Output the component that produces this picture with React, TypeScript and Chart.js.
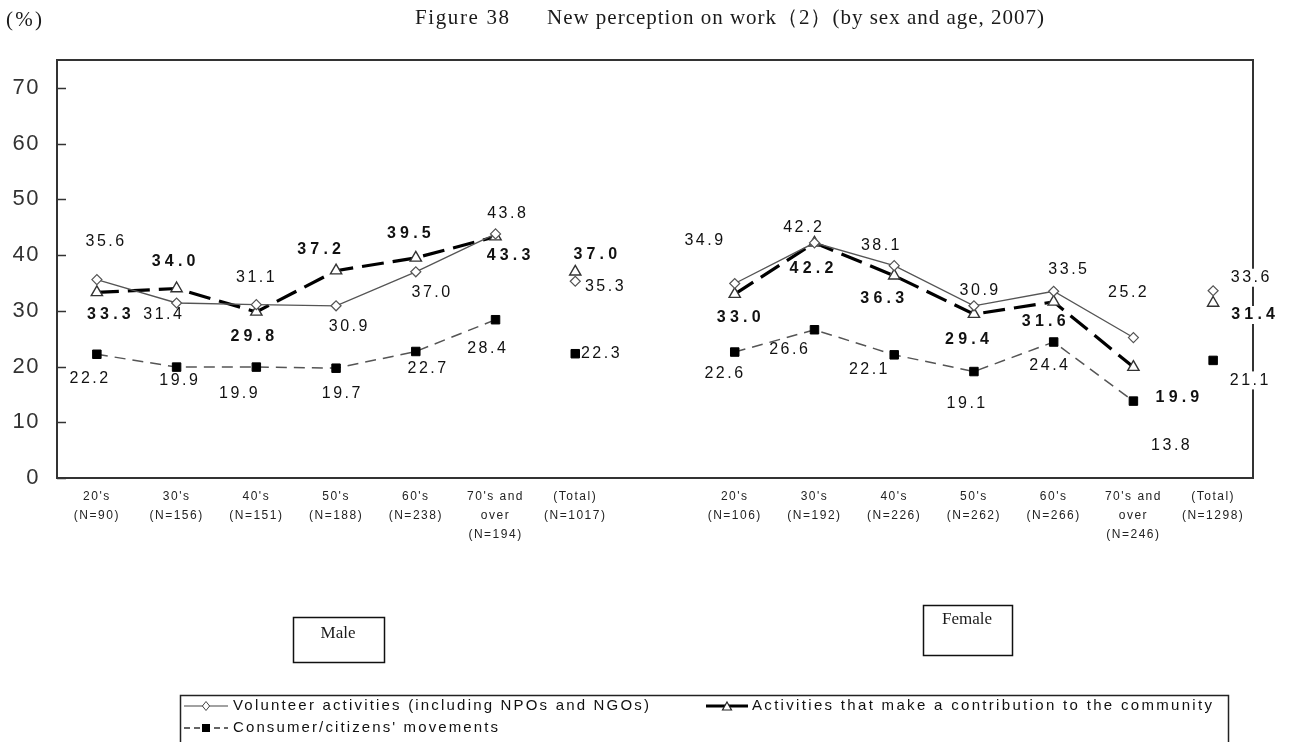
import React, { useEffect, useRef } from 'react';
import { Chart, registerables } from 'chart.js';

Chart.register(...registerables);

// ---------- categories / tick labels ----------
const maleCategories: string[][] = [
  ["20's", '(N=90)'],
  ["30's", '(N=156)'],
  ["40's", '(N=151)'],
  ["50's", '(N=188)'],
  ["60's", '(N=238)'],
  ["70's and", 'over', '(N=194)'],
  ['(Total)', '(N=1017)'],
];
const femaleCategories: string[][] = [
  ["20's", '(N=106)'],
  ["30's", '(N=192)'],
  ["40's", '(N=226)'],
  ["50's", '(N=262)'],
  ["60's", '(N=266)'],
  ["70's and", 'over', '(N=246)'],
  ['(Total)', '(N=1298)'],
];
const yTicks = [0, 10, 20, 30, 40, 50, 60, 70];

// ---------- series values ----------
const maleVolunteer = [35.6, 31.4, 31.1, 30.9, 37.0, 43.8];
const maleVolunteerTotal = 35.3;
const femaleVolunteer = [34.9, 42.2, 38.1, 30.9, 33.5, 25.2];
const femaleVolunteerTotal = 33.6;

const maleCommunity = [33.3, 34.0, 29.8, 37.2, 39.5, 43.3];
const maleCommunityTotal = 37.0;
const femaleCommunity = [33.0, 42.2, 36.3, 29.4, 31.6, 19.9];
const femaleCommunityTotal = 31.4;

const maleConsumer = [22.2, 19.9, 19.9, 19.7, 22.7, 28.4];
const maleConsumerTotal = 22.3;
const femaleConsumer = [22.6, 26.6, 22.1, 19.1, 24.4, 13.8];
const femaleConsumerTotal = 21.1;

const seriesNames = [
  'Volunteer activities (including NPOs and NGOs)',
  'Activities that make a contribution to the community',
  "Consumer/citizens' movements",
];

// ---------- label placement (style, offsets from each point in px) ----------
type Off = [number, number] | null;
const volunteerLabelOffsets: Off[] = [
  [8, -38], [-14, 12], [-1, -27], [12, 21], [15, 21], [11, -20], [29, 5], null,
  [-31, -43], [-12, -15], [-14, -20], [5, -15], [14, -22], [-6, -45], [37, -13],
];
const communityLabelOffsets: Off[] = [
  [12, 22], [-3, -27], [-4, 25], [-17, -21], [-7, -24], [13, 19], [20, -17], null,
  [4, 24], [-3, 26], [-12, 23], [-7, 25], [-10, 20], [44, 31], [40, 12],
];
const consumerLabelOffsets: Off[] = [
  [-8, 24], [2, 14], [-18, 27], [5, 25], [11, 17], [-9, 29], [25, 0], null,
  [-11, 22], [-26, 20], [-26, 15], [-8, 32], [-5, 24], [37, 45], [36, 20],
];

const SANS = '"Liberation Sans", Arial, sans-serif';
const SERIF = '"Liberation Serif", "Times New Roman", serif';

const labels = [...maleCategories, '', ...femaleCategories];

function lineData(m: number[], f: number[]) {
  return [...m, null, null, ...f, null];
}
function totalData(mt: number, ft: number) {
  const arr: (number | null)[] = new Array(15).fill(null);
  arr[6] = mt;
  arr[14] = ft;
  return arr;
}

function spaced(ctx: any, text: string, x: number, y: number, spacing: number, align: 'left' | 'center') {
  ctx.letterSpacing = '0px';
  const w0 = ctx.measureText(text).width;
  const n = [...text].length;
  const w = w0 + spacing * (n - 1);
  const sx = align === 'center' ? x - w / 2 : x;
  ctx.letterSpacing = spacing + 'px';
  ctx.textAlign = 'left';
  ctx.fillText(text, sx, y);
  ctx.letterSpacing = '0px';
  return { x: sx, w };
}
function fitText(ctx: any, text: string, x: number, y: number, target: number) {
  ctx.letterSpacing = '0px';
  const w0 = ctx.measureText(text).width;
  const n = [...text].length;
  const sp = Math.max(-1, Math.min(6, (target - w0) / (n - 1)));
  spaced(ctx, text, x, y, sp, 'left');
}

function diamond(ctx: any, x: number, y: number, r: number) {
  ctx.beginPath();
  ctx.moveTo(x, y - r);
  ctx.lineTo(x + r * 0.8, y);
  ctx.lineTo(x, y + r);
  ctx.lineTo(x - r * 0.8, y);
  ctx.closePath();
  ctx.fillStyle = '#fff';
  ctx.fill();
  ctx.stroke();
}
function triangle(ctx: any, x: number, y: number, r: number) {
  ctx.beginPath();
  ctx.moveTo(x, y - r);
  ctx.lineTo(x + r * 0.9, y + r * 0.6);
  ctx.lineTo(x - r * 0.9, y + r * 0.6);
  ctx.closePath();
  ctx.fillStyle = '#fff';
  ctx.fill();
  ctx.stroke();
}

const decorPlugin = {
  id: 'decor',
  beforeDraw(chart: any) {
    const ctx = chart.ctx;
    ctx.save();
    ctx.fillStyle = '#fff';
    ctx.fillRect(0, 0, chart.width, chart.height);
    ctx.restore();
    ctx.letterSpacing = '1.5px';
  },
  beforeDatasetsDraw(chart: any) {
    const ctx = chart.ctx;
    ctx.letterSpacing = '0px';
    const { left, right, top, bottom } = chart.chartArea;
    ctx.save();
    ctx.strokeStyle = '#333';
    ctx.lineWidth = 2;
    ctx.strokeRect(left, top, right - left, bottom - top);
    const ys = chart.scales.y;
    ctx.lineWidth = 1.5;
    yTicks.forEach((v) => {
      const py = Math.round(ys.getPixelForValue(v)) + 0.5;
      ctx.beginPath();
      ctx.moveTo(left, py);
      ctx.lineTo(left + 9, py);
      ctx.stroke();
    });
    ctx.restore();
  },
  afterDatasetsDraw(chart: any) {
    const ctx = chart.ctx;
    const right = chart.chartArea.right;
    const groups = [
      { line: 0, tot: 1, offs: volunteerLabelOffsets, bold: false },
      { line: 2, tot: 3, offs: communityLabelOffsets, bold: true },
      { line: 4, tot: 5, offs: consumerLabelOffsets, bold: false },
    ];
    ctx.save();
    ctx.textBaseline = 'middle';
    groups.forEach((g) => {
      for (let i = 0; i < 15; i++) {
        let di = g.line;
        let v = chart.data.datasets[di].data[i];
        if (v == null) {
          di = g.tot;
          v = chart.data.datasets[di].data[i];
        }
        if (v == null) continue;
        const off = g.offs[i];
        if (!off) continue;
        const pt = chart.getDatasetMeta(di).data[i];
        const cx = pt.x + off[0];
        const cy = pt.y + off[1];
        const text = Number(v).toFixed(1);
        ctx.font = g.bold ? `bold 16px ${SANS}` : `16px ${SANS}`;
        const sp = g.bold ? 4.2 : 2.5;
        ctx.letterSpacing = '0px';
        const w = ctx.measureText(text).width + sp * (text.length - 1);
        if (cx + w / 2 > right - 3) {
          ctx.fillStyle = '#fff';
          ctx.fillRect(cx - w / 2 - 2, cy - 9, w + 4, 18);
        }
        ctx.fillStyle = '#111';
        spaced(ctx, text, cx, cy, sp, 'center');
      }
    });
    ctx.restore();
  },
  afterDraw(chart: any) {
    const ctx = chart.ctx;
    ctx.save();
    ctx.letterSpacing = '0px';
    ctx.fillStyle = '#1a1a1a';
    ctx.textBaseline = 'middle';
    // title
    ctx.font = `21px ${SERIF}`;
    fitText(ctx, 'Figure 38', 415, 18, 94);
    fitText(ctx, 'New perception on work（2）(by sex and age, 2007)', 547, 18, 497);
    // unit
    ctx.font = `21px ${SERIF}`;
    fitText(ctx, '(%)', 6, 20, 36);

    // Male / Female boxes
    ctx.strokeStyle = '#111';
    ctx.lineWidth = 1.5;
    ctx.strokeRect(293.5, 617.5, 91, 45);
    ctx.strokeRect(923.5, 605.5, 89, 50);
    ctx.font = `17px ${SERIF}`;
    ctx.fillStyle = '#1a1a1a';
    spaced(ctx, 'Male', 338, 634, 0, 'center');
    spaced(ctx, 'Female', 967, 620, 0, 'center');

    // legend
    ctx.strokeStyle = '#222';
    ctx.lineWidth = 1.5;
    ctx.strokeRect(180.5, 695.5, 1048, 70);
    const r1 = 706;
    const r2 = 728;
    // volunteer
    ctx.strokeStyle = '#444';
    ctx.lineWidth = 1.2;
    ctx.beginPath();
    ctx.moveTo(184, r1);
    ctx.lineTo(228, r1);
    ctx.stroke();
    ctx.lineWidth = 1;
    diamond(ctx, 206, r1, 4.5);
    // community
    ctx.strokeStyle = '#000';
    ctx.lineWidth = 3;
    ctx.beginPath();
    ctx.moveTo(706, r1);
    ctx.lineTo(748, r1);
    ctx.stroke();
    ctx.lineWidth = 1.2;
    ctx.strokeStyle = '#222';
    triangle(ctx, 727, r1 + 1, 5);
    // consumer
    ctx.strokeStyle = '#333';
    ctx.lineWidth = 1.3;
    ctx.setLineDash([6, 4]);
    ctx.beginPath();
    ctx.moveTo(184, r2);
    ctx.lineTo(228, r2);
    ctx.stroke();
    ctx.setLineDash([]);
    ctx.fillStyle = '#000';
    ctx.fillRect(202, r2 - 4, 8, 8);

    ctx.fillStyle = '#111';
    ctx.font = `15px ${SANS}`;
    fitText(ctx, seriesNames[0], 233, r1, 416);
    fitText(ctx, seriesNames[1], 752, r1, 460);
    fitText(ctx, seriesNames[2], 233, r2, 265);
    ctx.restore();
  },
};

export default function App() {
  const ref = useRef<HTMLCanvasElement | null>(null);
  useEffect(() => {
    if (!ref.current) return;
    const volStyle = {
      borderColor: '#555',
      borderWidth: 1.3,
      pointStyle: 'rectRot',
      pointRadius: 5,
      pointBackgroundColor: '#fff',
      pointBorderColor: '#555',
      pointBorderWidth: 1.2,
    };
    const comStyle = {
      borderColor: '#000',
      borderWidth: 3.2,
      borderDash: [22, 9],
      pointStyle: 'triangle',
      pointRadius: 6.5,
      pointBackgroundColor: '#fff',
      pointBorderColor: '#333',
      pointBorderWidth: 1.4,
    };
    const conStyle = {
      borderColor: '#555',
      borderWidth: 1.5,
      borderDash: [11, 7],
      pointStyle: 'rect',
      pointRadius: 6,
      pointBackgroundColor: '#000',
      pointBorderColor: '#000',
      pointBorderWidth: 1,
    };
    const chart = new Chart(ref.current, {
      type: 'line',
      data: {
        labels,
        datasets: [
          { label: seriesNames[0], data: lineData(maleVolunteer, femaleVolunteer), ...volStyle },
          { label: seriesNames[0] + ' total', data: totalData(maleVolunteerTotal, femaleVolunteerTotal), showLine: false, ...volStyle },
          { label: seriesNames[1], data: lineData(maleCommunity, femaleCommunity), ...comStyle },
          { label: seriesNames[1] + ' total', data: totalData(maleCommunityTotal, femaleCommunityTotal), showLine: false, ...comStyle },
          { label: seriesNames[2], data: lineData(maleConsumer, femaleConsumer), ...conStyle },
          { label: seriesNames[2] + ' total', data: totalData(maleConsumerTotal, femaleConsumerTotal), showLine: false, ...conStyle },
        ] as any,
      },
      options: {
        responsive: false,
        animation: false,
        devicePixelRatio: 1,
        spanGaps: false,
        layout: { padding: { top: 60, right: 37, left: 0, bottom: 0 } },
        elements: { line: { tension: 0, fill: false } },
        plugins: {
          legend: { display: false },
          tooltip: { enabled: false },
          title: { display: false },
        },
        scales: {
          x: {
            type: 'category',
            offset: true,
            grid: { display: false, drawTicks: false, offset: true },
            border: { display: false },
            ticks: {
              autoSkip: false,
              maxRotation: 0,
              minRotation: 0,
              padding: 9,
              color: '#222',
              font: { family: SANS, size: 12, lineHeight: '19px' } as any,
            },
            afterFit: (s: any) => {
              s.height = 264;
            },
          },
          y: {
            min: 0,
            max: 75,
            grid: { display: false, drawTicks: false },
            border: { display: false },
            ticks: {
              stepSize: 10,
              padding: 17,
              color: '#333',
              font: { family: SANS, size: 22 },
            },
            afterBuildTicks: (s: any) => {
              s.ticks = yTicks.map((v) => ({ value: v }));
            },
            afterFit: (s: any) => {
              s.width = 57;
            },
          },
        },
      } as any,
      plugins: [decorPlugin],
    });
    return () => chart.destroy();
  }, []);
  return (
    <div style={{ position: 'fixed', left: 0, top: 0, width: 1290, height: 742, background: '#fff' }}>
      <canvas ref={ref} width={1290} height={742} style={{ width: 1290, height: 742, display: 'block' }} />
    </div>
  );
}
